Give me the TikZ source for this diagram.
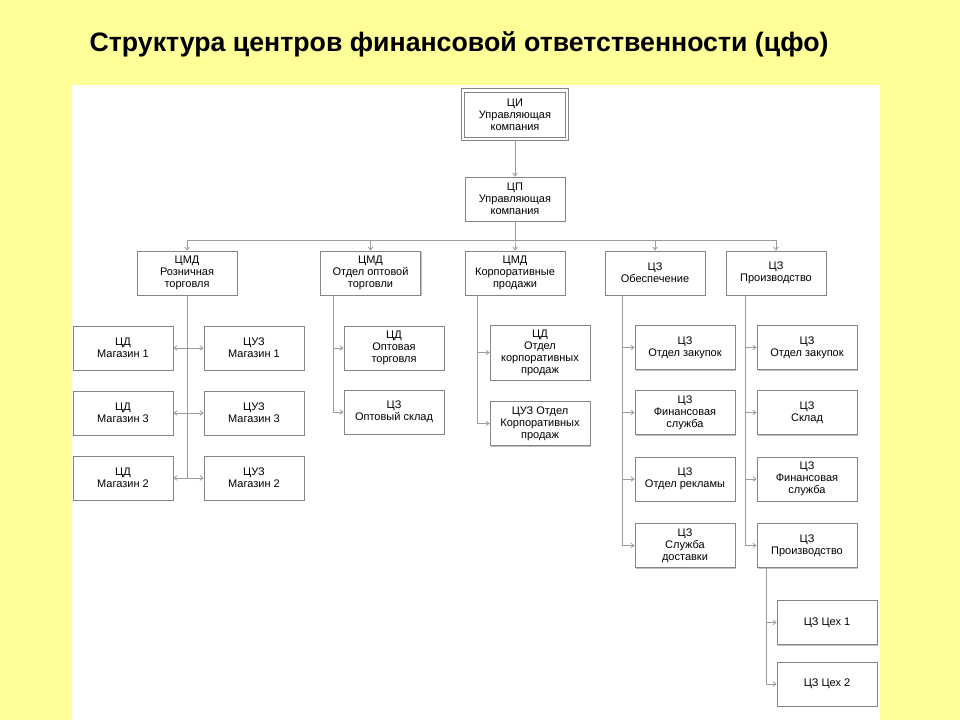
\documentclass[tikz,border=0pt]{standalone}
\usepackage{fontspec}
\setmainfont{Liberation Sans}
\usepackage{tikz}
\usetikzlibrary{arrows.meta,shadows}
\definecolor{Fon}{HTML}{FFFF99}
\definecolor{Ramka}{HTML}{858585}
\definecolor{Liniya}{HTML}{9C9C9C}

\begin{document}
\begin{tikzpicture}[
  x=1pt,y=-1pt,
  cfobase/.style={draw=Ramka,line width=0.8pt,fill=white,align=center,
    minimum width=100pt,minimum height=44pt,inner sep=1pt,
    font=\fontsize{11}{12}\selectfont},
  cfo/.style={cfobase,
    drop shadow={shadow xshift=1pt,shadow yshift=-1pt,fill=black!25,opacity=1}},
  glavn/.style={cfobase,minimum width=101pt,minimum height=45pt},
  strelka/.style={-{Straight Barb[length=3pt,width=4.5pt]},Liniya,line width=0.8pt}
]
  % Fon i belaya panel
  \useasboundingbox (0,0) rectangle (960,720);
  \fill[Fon] (0,0) rectangle (960,720);
  \fill[white] (72,85) rectangle (880,720);
  \node[font=\fontsize{26.7}{31}\selectfont\bfseries] (title) at (459,44)
    {Структура центров финансовой ответственности (цфо)};

  % Verkhnie urovni
  \node[glavn] (ci) at (515,114.5) {ЦИ\\Управляющая\\компания};
  \draw[Ramka,line width=1pt] ([xshift=-3pt,yshift=3pt]ci.north west)
    rectangle ([xshift=3pt,yshift=-3pt]ci.south east);
  \node[cfo] (cp) at (515,199) {ЦП\\Управляющая\\компания};
  \draw[strelka] ([yshift=-3pt]ci.south) -- (cp);

  \node[cfo] (rozn) at (187,273) {ЦМД\\Розничная\\торговля};
  \node[cfo] (opt) at (370.5,273) {ЦМД\\Отдел оптовой\\торговли};
  \node[cfo] (korp) at (515,273) {ЦМД\\Корпоративные\\продажи};
  \node[cfo] (obes) at (655,273) {ЦЗ\\Обеспечение};
  \node[cfo] (proizv) at (776,273) {ЦЗ\\Производство};
  \foreach \n in {rozn,opt,korp,obes,proizv}
    \draw[strelka] (cp.south) -- ++(0,19) -| (\n.north);

  % Roznichnaya torgovlya: magaziny po obe storony
  \node[cfo] (d1) at (123,348) {ЦД\\Магазин 1};
  \node[cfo] (u1) at (254,348) {ЦУЗ\\Магазин 1};
  \node[cfo] (d3) at (123,413) {ЦД\\Магазин 3};
  \node[cfo] (u3) at (254,413) {ЦУЗ\\Магазин 3};
  \node[cfo] (d2) at (123,478) {ЦД\\Магазин 2};
  \node[cfo] (u2) at (254,478) {ЦУЗ\\Магазин 2};
  \foreach \n in {d1,d3,d2}
    \draw[strelka] (rozn.south) |- (\n.east);
  \foreach \n in {u1,u3,u2}
    \draw[strelka] (rozn.south) |- (\n.west);

  % Optovaya torgovlya
  \node[cfo] (o1) at (394,348) {ЦД\\Оптовая\\торговля};
  \node[cfo] (o2) at (394,412) {ЦЗ\\Оптовый склад};
  \coordinate (optst) at ([xshift=13pt]opt.south west);
  \foreach \n in {o1,o2}
    \draw[strelka] (optst) |- (\n.west);

  % Korporativnye prodazhi
  \node[cfo,minimum height=55pt] (k1) at (540,352.5)
    {ЦД\\Отдел\\корпоративных\\продаж};
  \node[cfo] (k2) at (540,423.5) {ЦУЗ Отдел\\Корпоративных\\продаж};
  \coordinate (korpst) at ([xshift=13pt]korp.south west);
  \foreach \n in {k1,k2}
    \draw[strelka] (korpst) |- (\n.west);

  % Obespechenie
  \node[cfo] (z1) at (685,347.5) {ЦЗ\\Отдел закупок};
  \node[cfo] (z2) at (685,412.5) {ЦЗ\\Финансовая\\служба};
  \node[cfo] (z3) at (685,479) {ЦЗ\\Отдел рекламы};
  \node[cfo] (z4) at (685,545.5) {ЦЗ\\Служба\\доставки};
  \coordinate (obesst) at ([xshift=18pt]obes.south west);
  \foreach \n in {z1,z2,z3,z4}
    \draw[strelka] (obesst) |- (\n.west);

  % Proizvodstvo
  \node[cfo] (p1) at (807,347.5) {ЦЗ\\Отдел закупок};
  \node[cfo] (p2) at (807,412.5) {ЦЗ\\Склад};
  \node[cfo] (p3) at (807,479) {ЦЗ\\Финансовая\\служба};
  \node[cfo] (p4) at (807,545.5) {ЦЗ\\Производство};
  \coordinate (proizvst) at ([xshift=20pt]proizv.south west);
  \foreach \n in {p1,p2,p3,p4}
    \draw[strelka] (proizvst) |- (\n.west);

  % Tsekha
  \node[cfo] (c1) at (827,622.5) {ЦЗ Цех 1};
  \node[cfo] (c2) at (827,684) {ЦЗ Цех 2};
  \coordinate (p4st) at ([xshift=10pt]p4.south west);
  \foreach \n in {c1,c2}
    \draw[strelka] (p4st) |- (\n.west);
\end{tikzpicture}
\end{document}
